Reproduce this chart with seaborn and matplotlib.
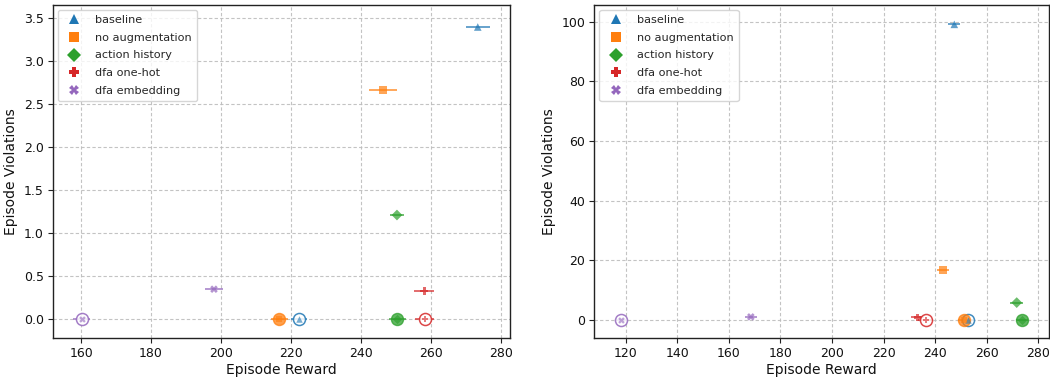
import numpy as np
import pandas as pd
import matplotlib
matplotlib.use("Agg")
import matplotlib.pyplot as plt
import seaborn as sns

methods = ["baseline", "no augmentation", "action history", "dfa one-hot", "dfa embedding"]
markers = ["^", "s", "D", "P", "X"]
colors = ["#1f77b4", "#ff7f0e", "#2ca02c", "#d62728", "#9467bd"]

# Left panel
left_mean_reward = [273.4, 246.3, 250.3, 258.1, 198.0]
left_mean_reward_err = [3.4, 3.9, 2.0, 2.8, 2.5]
left_mean_viol = [3.39, 2.66, 1.21, 0.33, 0.35]
left_best_reward = [222.3, 216.7, 250.4, 258.2, 160.2]
left_best_reward_err = [2.4, 2.5, 2.5, 2.6, 2.4]
left_best_viol = [0.0, 0.0, 0.0, 0.0, 0.0]

# Right panel
right_mean_reward = [247.4, 243.1, 271.6, 233.2, 168.5]
right_mean_reward_err = [2.4, 2.4, 2.5, 2.4, 2.2]
right_mean_viol = [99.2, 16.7, 5.7, 0.7, 0.9]
right_best_reward = [252.6, 251.2, 273.7, 236.3, 118.2]
right_best_reward_err = [2.4, 2.4, 2.4, 2.8, 2.0]
right_best_viol = [0.0, 0.0, 0.0, 0.0, 0.0]

best_filled = [False, True, True, False, False]

sns.set_theme(style="white")
plt.rcParams["font.family"] = ["DejaVu Sans"]

fig = plt.figure(figsize=(10.5, 3.77), dpi=100)
ax_l = fig.add_axes([0.0502, 0.1034, 0.4358, 0.8833])
ax_r = fig.add_axes([0.5660, 0.1034, 0.4330, 0.8833])
axes = [ax_l, ax_r]

panels = [
    (left_mean_reward, left_mean_reward_err, left_mean_viol, left_best_reward, left_best_reward_err, left_best_viol,
     (151.9, 282.7), (-0.216, 3.645), [160, 180, 200, 220, 240, 260, 280], [0, 0.5, 1.0, 1.5, 2.0, 2.5, 3.0, 3.5]),
    (right_mean_reward, right_mean_reward_err, right_mean_viol, right_best_reward, right_best_reward_err, right_best_viol,
     (107.8, 284.1), (-6.2, 105.7), [120, 140, 160, 180, 200, 220, 240, 260, 280], [0, 20, 40, 60, 80, 100]),
]

for ax, (mr, mre, mv, br, bre, bv, xl, yl, xt, yt) in zip(axes, panels):
    df = pd.DataFrame({"method": methods, "reward": mr, "viol": mv})
    for i, m in enumerate(methods):
        ax.errorbar(mr[i], mv[i], xerr=mre[i], fmt="none", ecolor=colors[i], elinewidth=1.2, alpha=0.8, zorder=3)
        ax.errorbar(br[i], bv[i], xerr=bre[i], fmt="none", ecolor=colors[i], elinewidth=1.2, alpha=0.8, zorder=3)
    sns.scatterplot(data=df, x="reward", y="viol", hue="method", style="method",
                    hue_order=methods, style_order=methods,
                    palette=colors, markers=dict(zip(methods, markers)),
                    s=30, alpha=0.7, linewidth=0, ax=ax, zorder=4)
    dfb = pd.DataFrame({"method": methods, "reward": br, "viol": bv})
    for i, m in enumerate(methods):
        sub = dfb[dfb["method"] == m]
        if best_filled[i]:
            sns.scatterplot(data=sub, x="reward", y="viol", color=colors[i], marker="o", s=75,
                            alpha=0.75, edgecolor=colors[i], linewidth=1.0, ax=ax, zorder=4, legend=False)
        else:
            sns.scatterplot(data=sub, x="reward", y="viol", marker="o", s=75,
                            facecolor=(1, 1, 1, 0.6), edgecolor=colors[i], linewidth=1.1, alpha=0.85,
                            ax=ax, zorder=4, legend=False)
        sns.scatterplot(data=sub, x="reward", y="viol", color=colors[i], marker=markers[i], s=22,
                        alpha=0.6, linewidth=0, ax=ax, zorder=5, legend=False)
    ax.set_xlim(*xl)
    ax.set_ylim(*yl)
    ax.set_xticks(xt)
    ax.set_yticks(yt)
    ax.grid(True, linestyle=(0, (3, 2)), color="#bdbdbd", linewidth=0.8, alpha=0.9)
    for sp in ax.spines.values():
        sp.set_color("#222222")
        sp.set_linewidth(1.0)
    ax.tick_params(axis="both", labelsize=9, length=3.5, width=0.8, direction="out", color="#222222",
                   bottom=True, left=True, pad=3, labelcolor="#111111")
    ax.set_xlabel("Episode Reward", fontsize=10, labelpad=2, color="#111111")
    ax.set_ylabel("Episode Violations", fontsize=10, labelpad=4, color="#111111")
    leg = ax.legend(loc="upper left", fontsize=8.1, frameon=True, framealpha=0.8, edgecolor="#cccccc",
                    handletextpad=0.9, borderpad=0.45, labelspacing=0.68, markerscale=1.25,
                    bbox_to_anchor=(0.0, 1.0), borderaxespad=0.45)
    for h in leg.legend_handles:
        h.set_alpha(1.0)

fig.savefig("out.png", dpi=100)
